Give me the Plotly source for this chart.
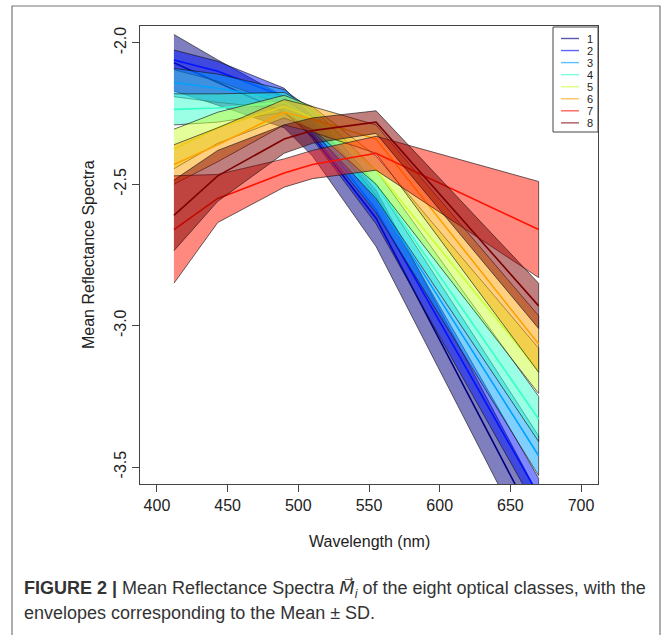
import plotly.graph_objects as go

# SeaWiFS-like bands (nm)
wavelengths = [412, 443, 490, 510, 555, 670]

class_labels = ["1", "2", "3", "4", "5", "6", "7", "8"]
class_colors = ["#00007F", "#0012FF", "#00A2FF", "#36FFC9",
                "#C9FF36", "#FFA200", "#FF1200", "#7F0000"]

# Mean log reflectance spectra per optical class and their standard deviations
mean_c1 = [-2.07, -2.14, -2.245, -2.33, -2.62, -3.72]
sd_c1 = [0.10, 0.08, 0.055, 0.07, 0.10, 0.12]
mean_c2 = [-2.06, -2.10, -2.19, -2.30, -2.59, -3.60]
sd_c2 = [0.035, 0.035, 0.03, 0.04, 0.05, 0.06]
mean_c3 = [-2.14, -2.16, -2.20, -2.28, -2.55, -3.46]
sd_c3 = [0.05, 0.05, 0.035, 0.04, 0.05, 0.07]
mean_c4 = [-2.235, -2.23, -2.21, -2.27, -2.50, -3.33]
sd_c4 = [0.055, 0.05, 0.035, 0.04, 0.05, 0.08]
mean_c5 = [-2.375, -2.30, -2.225, -2.265, -2.45, -3.16]
sd_c5 = [0.07, 0.055, 0.04, 0.04, 0.05, 0.08]
mean_c6 = [-2.43, -2.36, -2.245, -2.27, -2.34, -3.065]
sd_c6 = [0.07, 0.06, 0.045, 0.045, 0.05, 0.10]
mean_c7 = [-2.66, -2.55, -2.46, -2.43, -2.39, -2.66]
sd_c7 = [0.19, 0.085, 0.05, 0.05, 0.06, 0.17]
mean_c8 = [-2.61, -2.47, -2.34, -2.31, -2.28, -2.93]
sd_c8 = [0.125, 0.09, 0.05, 0.045, 0.04, 0.08]

x_ticks = [400, 450, 500, 550, 600, 650, 700]
y_ticks = [-2.0, -2.5, -3.0, -3.5]
y_tick_text = ["-2.0", "-2.5", "-3.0", "-3.5"]

means = [mean_c1, mean_c2, mean_c3, mean_c4, mean_c5, mean_c6, mean_c7, mean_c8]
sds = [sd_c1, sd_c2, sd_c3, sd_c4, sd_c5, sd_c6, sd_c7, sd_c8]


def rgba(hex_color, alpha):
    h = hex_color.lstrip("#")
    r, g, b = int(h[0:2], 16), int(h[2:4], 16), int(h[4:6], 16)
    return f"rgba({r},{g},{b},{alpha})"


# page geometry (pixels)
W, H = 667, 635
L, R, T, B = 140, 598, 26, 484


def px(x):
    return (x - L) / (R - L)


def py(y):
    return (B - y) / (B - T)


fig = go.Figure()

# envelope (mean +/- SD) and mean line for each class
for lab, col, m, s in zip(class_labels, class_colors, means, sds):
    upper = [a + b for a, b in zip(m, s)]
    lower = [a - b for a, b in zip(m, s)]
    fig.add_trace(go.Scatter(
        x=wavelengths + wavelengths[::-1],
        y=upper + lower[::-1],
        mode="lines", fill="toself",
        fillcolor=rgba(col, 0.5),
        line=dict(color="rgba(20,20,20,0.8)", width=0.8),
        hoverinfo="skip", showlegend=False,
    ))
    fig.add_trace(go.Scatter(
        x=wavelengths, y=m, mode="lines",
        line=dict(color=col, width=1.6),
        name=lab, showlegend=False,
    ))

axis_common = dict(
    showgrid=False, zeroline=False, showline=True, mirror=True,
    linecolor="#444", linewidth=1, ticks="outside", ticklen=7,
    tickcolor="#444", tickwidth=1,
    tickfont=dict(family="Liberation Sans, Arial", size=16, color="#222"),
)

fig.update_xaxes(range=[388, 712], tickvals=x_ticks, **axis_common)
fig.update_yaxes(range=[-3.56, -1.94], tickvals=y_ticks, ticktext=y_tick_text,
                 tickangle=-90, **axis_common)

shapes = []
annotations = []

# outer figure frame
shapes.append(dict(type="rect", xref="paper", yref="paper",
                   x0=px(12), x1=px(660), y0=py(645), y1=py(6),
                   line=dict(color="#777", width=1.2), layer="below"))

# legend box
leg_x0, leg_x1, leg_y0, leg_y1 = 553, 598, 27, 132
shapes.append(dict(type="rect", xref="paper", yref="paper",
                   x0=px(leg_x0), x1=px(leg_x1), y0=py(leg_y1), y1=py(leg_y0),
                   line=dict(color="#444", width=1), fillcolor="white"))
for i, (lab, col) in enumerate(zip(class_labels, class_colors)):
    yy = 38.5 + i * 12.05
    shapes.append(dict(type="line", xref="paper", yref="paper",
                       x0=px(561), x1=px(579), y0=py(yy), y1=py(yy),
                       line=dict(color=rgba(col, 0.65), width=1.4)))
    annotations.append(dict(xref="paper", yref="paper", x=px(590), y=py(yy),
                            text=lab, showarrow=False, xanchor="center",
                            yanchor="middle",
                            font=dict(family="Liberation Sans, Arial", size=11,
                                      color="#222")))

font_axis = dict(family="Liberation Sans, Arial", size=16, color="#222")
annotations.append(dict(xref="paper", yref="paper", x=0.5, y=py(541),
                        text="Wavelength (nm)", showarrow=False,
                        xanchor="center", yanchor="middle", font=font_axis))
annotations.append(dict(xref="paper", yref="paper", x=px(88), y=0.5,
                        text="Mean Reflectance Spectra", showarrow=False,
                        textangle=-90, xanchor="center", yanchor="middle",
                        font=font_axis))

font_cap = dict(family="Liberation Sans, Arial", size=18, color="#333")
annotations.append(dict(
    xref="paper", yref="paper", x=px(22), y=py(589),
    text="<b>FIGURE 2 |</b> Mean Reflectance Spectra "
         "<span style='font-family:DejaVu Sans'><i>M\u20D7</i></span>"
         "<sub><i>i</i></sub> of the eight optical classes, with the",
    showarrow=False, xanchor="left", yanchor="middle", font=font_cap))
annotations.append(dict(
    xref="paper", yref="paper", x=px(22), y=py(613),
    text="envelopes corresponding to the Mean \u00B1 SD.",
    showarrow=False, xanchor="left", yanchor="middle", font=font_cap))

fig.update_layout(
    width=W, height=H,
    margin=dict(l=L, r=W - R, t=T, b=H - B),
    paper_bgcolor="white", plot_bgcolor="white",
    shapes=shapes, annotations=annotations,
    showlegend=False,
)

fig.write_html("out.html")
